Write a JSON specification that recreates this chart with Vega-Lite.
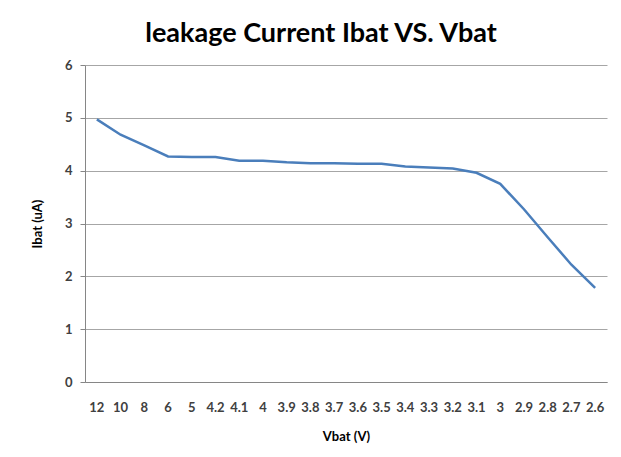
{
  "$schema": "https://vega.github.io/schema/vega-lite/v6.json",
  "width": 522,
  "height": 317,
  "autosize": {"type": "none"},
  "padding": {"left": 85, "top": 65, "right": 14, "bottom": 75},
  "background": "white",
  "title": {
    "text": "leakage Current Ibat VS. Vbat",
    "font": "Lato",
    "fontSize": 27,
    "fontWeight": "bold",
    "color": "#000000",
    "anchor": "middle",
    "offset": 11,
    "dx": -25
  },
  "data": {
    "values": [
      {"Vbat": "12", "Ibat": 4.97},
      {"Vbat": "10", "Ibat": 4.68},
      {"Vbat": "8", "Ibat": 4.48},
      {"Vbat": "6", "Ibat": 4.27},
      {"Vbat": "5", "Ibat": 4.26},
      {"Vbat": "4.2", "Ibat": 4.26},
      {"Vbat": "4.1", "Ibat": 4.19},
      {"Vbat": "4", "Ibat": 4.19},
      {"Vbat": "3.9", "Ibat": 4.16},
      {"Vbat": "3.8", "Ibat": 4.14},
      {"Vbat": "3.7", "Ibat": 4.14},
      {"Vbat": "3.6", "Ibat": 4.13},
      {"Vbat": "3.5", "Ibat": 4.13},
      {"Vbat": "3.4", "Ibat": 4.08},
      {"Vbat": "3.3", "Ibat": 4.06},
      {"Vbat": "3.2", "Ibat": 4.04},
      {"Vbat": "3.1", "Ibat": 3.96},
      {"Vbat": "3", "Ibat": 3.75},
      {"Vbat": "2.9", "Ibat": 3.27},
      {"Vbat": "2.8", "Ibat": 2.74},
      {"Vbat": "2.7", "Ibat": 2.22},
      {"Vbat": "2.6", "Ibat": 1.78}
    ]
  },
  "mark": {"type": "line", "color": "#4a7ebb", "strokeWidth": 2.5},
  "encoding": {
    "x": {
      "field": "Vbat",
      "type": "ordinal",
      "sort": null,
      "scale": {"type": "band", "paddingInner": 0, "paddingOuter": 0},
      "axis": {
        "title": "Vbat (V)",
        "labelAngle": 0,
        "labelFont": "Lato",
        "labelFontSize": 13,
        "labelFontWeight": "bold",
        "labelColor": "#404040",
        "labelPadding": 19,
        "ticks": false,
        "domainColor": "#868686",
        "titleFont": "Lato",
        "titleFontSize": 13,
        "titleFontWeight": "bold",
        "titleColor": "#000000",
        "titlePadding": 16,
        "grid": false
      }
    },
    "y": {
      "field": "Ibat",
      "type": "quantitative",
      "scale": {"domain": [0, 6], "nice": false},
      "axis": {
        "title": "Ibat (uA)",
        "values": [0, 1, 2, 3, 4, 5, 6],
        "labelFont": "Lato",
        "labelFontSize": 13,
        "labelFontWeight": "bold",
        "labelColor": "#404040",
        "labelPadding": 8,
        "tickSize": 5,
        "tickColor": "#868686",
        "domainColor": "#868686",
        "gridColor": "#a6a6a6",
        "titleFont": "Lato",
        "titleFontSize": 13,
        "titleFontWeight": "bold",
        "titleColor": "#000000",
        "titlePadding": 20
      }
    }
  },
  "config": {"view": {"stroke": null}}
}
